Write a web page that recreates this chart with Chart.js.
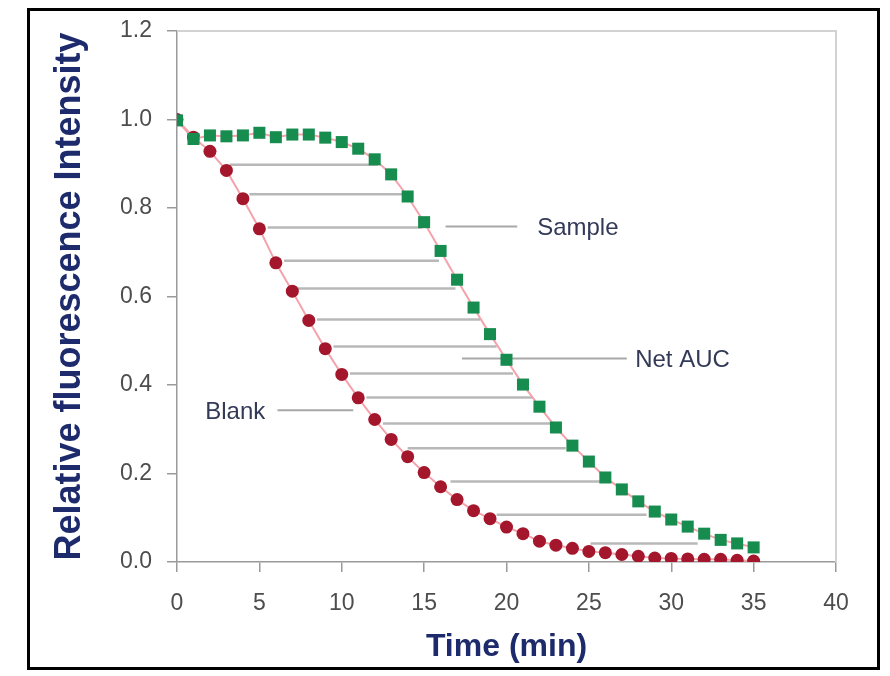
<!DOCTYPE html>
<html>
<head>
<meta charset="utf-8">
<script src="https://cdn.jsdelivr.net/npm/chart.js@4.4.1/dist/chart.umd.min.js"></script>
<style>
  html, body { margin: 0; padding: 0; background: #fff; }
</style>
</head>
<body>
<canvas id="chart" width="890" height="676"></canvas>
<script>
// values
const minutes = [
  0, 1, 2, 3, 4, 5, 6, 7, 8, 9, 10, 11, 12, 13, 14, 15, 16, 17,
  18, 19, 20, 21, 22, 23, 24, 25, 26, 27, 28, 29, 30, 31, 32, 33, 34, 35,
];
const blank = [
  1.0, 0.96, 0.928, 0.885, 0.821, 0.753, 0.676, 0.612, 0.546, 0.482, 0.424,
  0.371, 0.322, 0.277, 0.238, 0.202, 0.17, 0.141, 0.116, 0.098, 0.079, 0.064,
  0.047, 0.038, 0.031, 0.024, 0.021, 0.017, 0.013, 0.009, 0.008, 0.007, 0.006,
  0.006, 0.004, 0.002,
];
const sample = [
  0.998, 0.956, 0.964, 0.962, 0.964, 0.97, 0.96, 0.966, 0.966, 0.959, 0.949,
  0.934, 0.91, 0.876, 0.826, 0.768, 0.703, 0.638, 0.575, 0.515, 0.457, 0.401,
  0.351, 0.304, 0.263, 0.227, 0.191, 0.164, 0.137, 0.114, 0.096, 0.08, 0.064,
  0.05, 0.042, 0.033,
];
const xTicks = [0, 5, 10, 15, 20, 25, 30, 35, 40];
const yTicks = [0, 0.2, 0.4, 0.6, 0.8, 1.0, 1.2];
// net AUC hatching: level, start on blank side, end on sample side
const aucLevel = [
  0.898, 0.831, 0.756, 0.681, 0.618, 0.548, 0.487, 0.426, 0.372, 0.313,
  0.257, 0.182, 0.107, 0.042,
];
const aucFrom = [3.2, 4.4, 5.5, 6.5, 7.3, 8.5, 9.5, 10.5, 11.5, 12.5, 14.0, 16.6, 19.4, 25.1];
const aucTo = [12.2, 13.9, 14.9, 15.9, 16.9, 18.4, 19.4, 20.4, 21.6, 22.9, 23.6, 25.7, 28.5, 31.6];
// labels with their leader lines
const notes = [
  { text: "Sample", x: 21.86, y: 0.758, from: 16.3, to: 20.65, align: "left" },
  { text: "Net AUC", x: 27.81, y: 0.46, from: 17.3, to: 27.3, align: "left" },
  { text: "Blank", x: 5.36, y: 0.343, from: 6.1, to: 10.7, align: "right" },
];

const navy = "#1d2a6b";
const tickFont = { size: 23, family: "'Liberation Sans', Arial, sans-serif" };

const datasets = [
  {
    label: "Sample",
    data: minutes.map((m, i) => ({ x: m, y: sample[i] })),
    showLine: true,
    borderColor: "#f4a3ad",
    borderWidth: 2,
    pointStyle: "rect",
    pointRadius: 8.5,
    pointBackgroundColor: "#178c4f",
    pointBorderColor: "#178c4f",
    pointBorderWidth: 0,
  },
  {
    label: "Blank",
    data: minutes.map((m, i) => ({ x: m, y: blank[i] })),
    showLine: true,
    borderColor: "#f4a3ad",
    borderWidth: 2,
    pointStyle: "circle",
    pointRadius: 6.5,
    pointBackgroundColor: "#a3162b",
    pointBorderColor: "#a3162b",
    pointBorderWidth: 0,
  },
];
// grey net AUC segments
aucLevel.forEach((lv, i) => {
  datasets.push({
    data: [{ x: aucFrom[i], y: lv }, { x: aucTo[i], y: lv }],
    showLine: true,
    borderColor: "#b8b8b8",
    borderWidth: 2.5,
    pointRadius: 0,
  });
});
// leader lines
notes.forEach((n) => {
  datasets.push({
    data: [{ x: n.from, y: n.y }, { x: n.to, y: n.y }],
    showLine: true,
    borderColor: "#a8a8a8",
    borderWidth: 2,
    pointRadius: 0,
  });
});

const frame = {
  id: "frame",
  beforeDraw: (chart) => {
    const { ctx, width, height } = chart;
    ctx.save();
    ctx.fillStyle = "#ffffff";
    ctx.fillRect(0, 0, width, height);
    ctx.restore();
  },
  beforeDatasetsDraw: (chart) => {
    const { ctx, chartArea: a } = chart;
    ctx.save();
    ctx.strokeStyle = "#d2d2d2";
    ctx.lineWidth = 2;
    ctx.beginPath();
    ctx.moveTo(a.left, a.top);
    ctx.lineTo(a.right, a.top);
    ctx.lineTo(a.right, a.bottom);
    ctx.stroke();
    ctx.restore();
  },
  afterDraw: (chart) => {
    const { ctx, scales } = chart;
    ctx.save();
    ctx.font = "24px 'Liberation Sans', Arial, sans-serif";
    ctx.fillStyle = "#333a58";
    ctx.textBaseline = "middle";
    for (const n of notes) {
      ctx.textAlign = n.align;
      ctx.fillText(n.text, scales.x.getPixelForValue(n.x), scales.y.getPixelForValue(n.y) + 2);
    }
    // black outer border
    ctx.strokeStyle = "#000000";
    ctx.lineWidth = 3;
    ctx.strokeRect(28.5, 9.5, 850, 659);
    ctx.restore();
  },
};

new Chart(document.getElementById("chart"), {
  type: "scatter",
  data: { datasets },
  plugins: [frame],
  options: {
    responsive: false,
    animation: false,
    layout: { padding: { left: 30, right: 54, top: 31, bottom: 4 } },
    scales: {
      x: {
        type: "linear",
        min: 0,
        max: 40,
        afterBuildTicks: (axis) => {
          axis.ticks = xTicks.map((v) => ({ value: v }));
        },
        afterFit: (s) => {
          s.height = 110;
        },
        ticks: { color: "#4d4d4d", font: tickFont, padding: 18 },
        grid: { drawOnChartArea: false, tickLength: 10, color: "#9a9a9a", lineWidth: 1.5 },
        border: { color: "#9a9a9a", width: 1.5 },
        title: {
          display: true,
          text: "Time (min)",
          color: navy,
          font: { size: 32, weight: "bold", family: "'Liberation Sans', Arial, sans-serif" },
          padding: { top: 0, bottom: 6 },
        },
      },
      y: {
        min: 0,
        max: 1.2,
        afterBuildTicks: (axis) => {
          axis.ticks = yTicks.map((v) => ({ value: v }));
        },
        afterFit: (s) => {
          s.width = 147;
        },
        ticks: {
          color: "#4d4d4d",
          font: tickFont,
          padding: 15,
          callback: (v) => v.toFixed(1),
        },
        grid: { drawOnChartArea: false, tickLength: 10, color: "#9a9a9a", lineWidth: 1.5 },
        border: { color: "#9a9a9a", width: 1.5 },
        title: {
          display: true,
          text: "Relative fluorescence Intensity",
          color: navy,
          font: { size: 36, weight: "bold", family: "'Liberation Sans', Arial, sans-serif" },
          padding: { top: 18, bottom: 0 },
        },
      },
    },
    plugins: {
      legend: { display: false },
      tooltip: { enabled: false },
    },
  },
});
</script>
</body>
</html>
